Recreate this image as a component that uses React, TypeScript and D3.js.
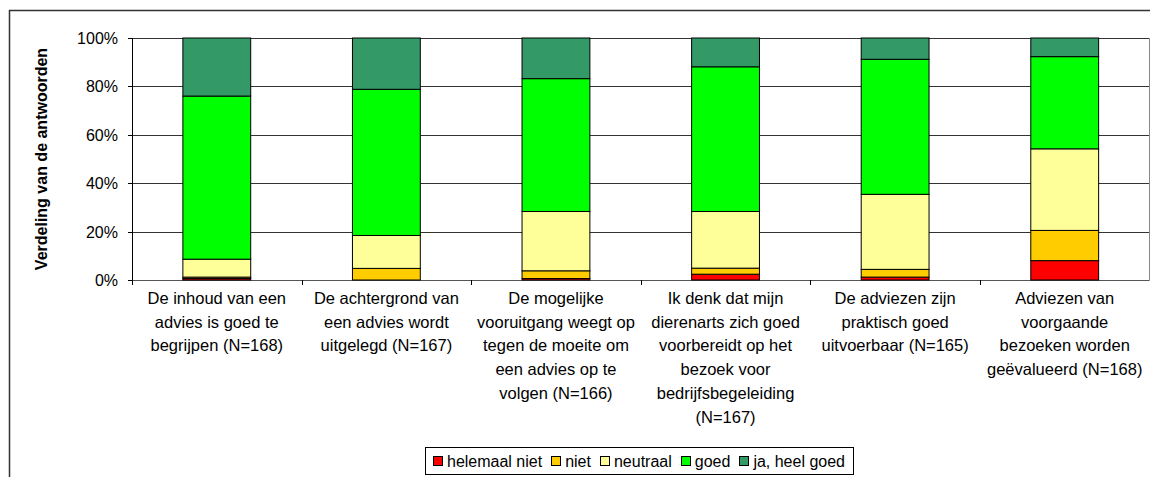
import React from "react";
import * as d3 from "d3";

const categories: string[][] = [
  ["De inhoud van een", "advies is goed te", "begrijpen (N=168)"],
  ["De achtergrond van", "een advies wordt", "uitgelegd (N=167)"],
  ["De mogelijke", "vooruitgang weegt op", "tegen de moeite om", "een advies op te", "volgen (N=166)"],
  ["Ik denk dat mijn", "dierenarts zich goed", "voorbereidt op het", "bezoek voor", "bedrijfsbegeleiding", "(N=167)"],
  ["De adviezen zijn", "praktisch goed", "uitvoerbaar (N=165)"],
  ["Adviezen van", "voorgaande", "bezoeken worden", "geëvalueerd (N=168)"],
];

const seriesNames = ["helemaal niet", "niet", "neutraal", "goed", "ja, heel goed"];
const seriesColors = ["#FF0000", "#FFCC00", "#FFFF99", "#00FF00", "#339966"];

const helemaalNiet = [0.6, 0.0, 0.6, 2.4, 1.2, 8.0];
const niet = [0.6, 4.8, 3.2, 2.5, 3.2, 12.5];
const neutraal = [7.4, 13.6, 24.5, 23.4, 31.0, 33.7];
const goed = [67.4, 60.4, 54.9, 59.8, 55.8, 38.1];
const jaHeelGoed = [24.0, 21.2, 16.8, 11.9, 8.8, 7.7];

const yTicks = [0, 0.2, 0.4, 0.6, 0.8, 1.0];
const yTitle = "Verdeling van de antwoorden";

const W = 1150;
const H = 477;
const FONT = "'Liberation Sans', Arial, Helvetica, sans-serif";

function measure(text: string, font: string): number {
  const c = document.createElement("canvas").getContext("2d");
  if (!c) return text.length * 8;
  c.font = font;
  return c.measureText(text).width;
}

export default function App() {
  const plotL = 132;
  const plotR = 1149.5;
  const plotT = 38;
  const plotB = 280;

  const keys = categories.map((_, i) => String(i));
  const x = d3.scaleBand<string>().domain(keys).range([plotL, plotR]).paddingInner(0.6).paddingOuter(0.3);
  const y = d3.scaleLinear().domain([0, 1]).range([plotB, plotT]);

  const rows = keys.map((k, i) => ({
    key: k,
    s0: helemaalNiet[i] / 100,
    s1: niet[i] / 100,
    s2: neutraal[i] / 100,
    s3: goed[i] / 100,
    s4: jaHeelGoed[i] / 100,
  }));
  const stack = d3.stack<any>().keys(["s0", "s1", "s2", "s3", "s4"]);
  const stacked = stack(rows);

  const step = x.step();
  const boundaries = keys.map((_, i) => plotL + i * step).concat([plotR]);

  // Legend layout
  const legFont = `16px ${FONT}`;
  const sq = 9;
  const gapSqText = 5;
  const gapItem = 9;
  const widths = seriesNames.map((n) => measure(n, legFont));
  const itemW = widths.map((w) => sq + gapSqText + w);
  const totalW = itemW.reduce((a, b) => a + b, 0) + gapItem * (seriesNames.length - 1);
  const padX = 8;
  const legCx = 639;
  const legW = totalW + 2 * padX;
  const legX = legCx - legW / 2;
  const legY = 447;
  const legH = 27;
  let cursor = legX + padX;
  const legItems = seriesNames.map((n, i) => {
    const xs = cursor;
    cursor += itemW[i] + gapItem;
    return { name: n, x: xs, color: seriesColors[i] };
  });

  const lineH = 23.7;

  return (
    <svg width={W} height={H} style={{ display: "block", position: "absolute", left: 0, top: 0, background: "#fff" }}>
      <rect x={0} y={0} width={W} height={H} fill="#fff" />
      {/* outer chart frame */}
      <path d={`M9.5,${H} V10.5 H${W}`} fill="none" stroke="#333" strokeWidth={1.5} />

      {/* gridlines */}
      {yTicks.map((t) => {
        const yy = Math.round(y(t)) + 0.5;
        return <line key={"g" + t} x1={plotL} x2={plotR} y1={yy} y2={yy} stroke={t === 0 ? "#555" : "#333"} strokeWidth={1} />;
      })}
      {/* plot area right border */}
      <line x1={plotR} x2={plotR} y1={Math.round(plotT) + 0.5} y2={Math.round(plotB) + 0.5} stroke="#888" strokeWidth={1} />

      {/* bars */}
      {stacked.map((layer, li) => (
        <g key={"l" + li} fill={seriesColors[li]}>
          {layer.map((d: any, i: number) => {
            const y0 = y(d[0]);
            const y1 = y(d[1]);
            const h = y0 - y1;
            if (h <= 0) return null;
            return (
              <rect
                key={i}
                x={(x(keys[i]) as number)}
                y={y1}
                width={x.bandwidth()}
                height={h}
                stroke="#000"
                strokeWidth={1}
              />
            );
          })}
        </g>
      ))}

      {/* y axis */}
      <line x1={plotL + 0.5} x2={plotL + 0.5} y1={y(1)} y2={y(0) + 0.5} stroke="#000" strokeWidth={1} />
      {yTicks.map((t) => {
        const yy = Math.round(y(t)) + 0.5;
        return (
          <g key={"t" + t}>
            <line x1={plotL - 4} x2={plotL + 0.5} y1={yy} y2={yy} stroke="#000" />
            <text x={118} y={yy} dy="0.36em" textAnchor="end" fontFamily={FONT} fontSize={16} fill="#000">
              {d3.format(".0%")(t)}
            </text>
          </g>
        );
      })}

      {/* x axis ticks */}
      {boundaries.map((bx, i) => (
        <line key={"xt" + i} x1={Math.round(bx) + 0.5} x2={Math.round(bx) + 0.5} y1={plotB} y2={plotB + 5} stroke="#000" />
      ))}

      {/* category labels */}
      {categories.map((lines, i) => {
        const cx = (x(keys[i]) as number) + x.bandwidth() / 2;
        return (
          <text key={"c" + i} textAnchor="middle" fontFamily={FONT} fontSize={16.5} fill="#000">
            {lines.map((ln, j) => (
              <tspan key={j} x={cx} y={304 + j * lineH}>
                {ln}
              </tspan>
            ))}
          </text>
        );
      })}

      {/* y title */}
      <text
        transform={`translate(47, ${(plotT + plotB) / 2}) rotate(-90)`}
        textAnchor="middle"
        fontFamily={FONT}
        fontSize={16}
        fontWeight="bold"
        fill="#000"
      >
        {yTitle}
      </text>

      {/* legend */}
      <rect x={Math.round(legX) + 0.5} y={legY + 0.5} width={Math.round(legW)} height={legH} fill="#fff" stroke="#000" strokeWidth={1} />
      {legItems.map((it) => (
        <g key={it.name}>
          <rect x={Math.round(it.x) + 0.5} y={legY + 9.5} width={sq} height={sq} fill={it.color} stroke="#000" strokeWidth={1} />
          <text x={it.x + sq + gapSqText} y={legY + 14} dy="0.36em" fontFamily={FONT} fontSize={16} fill="#000">
            {it.name}
          </text>
        </g>
      ))}
    </svg>
  );
}
